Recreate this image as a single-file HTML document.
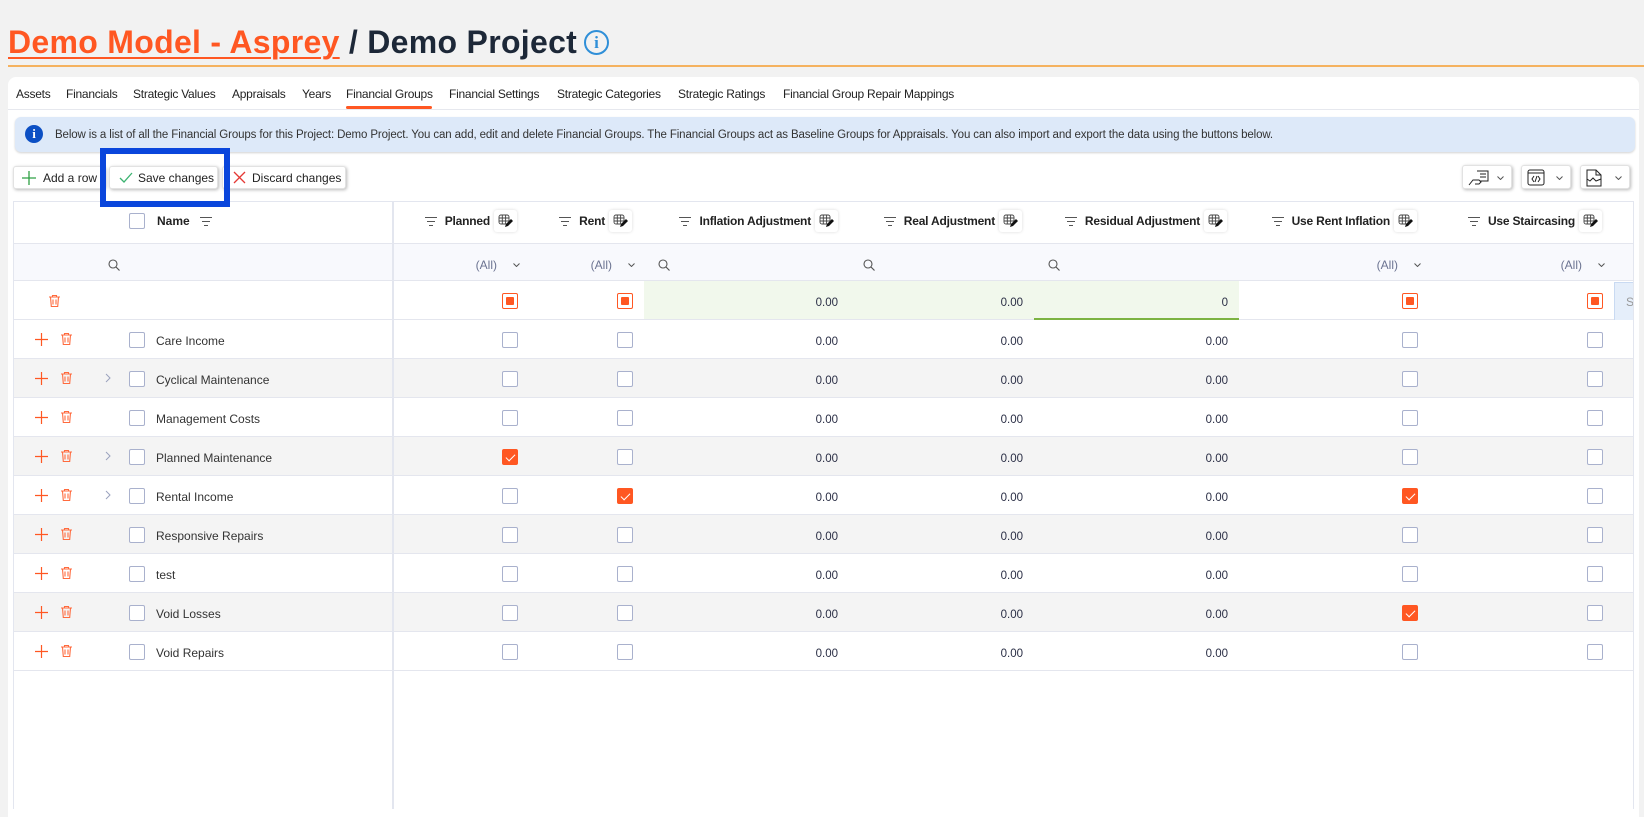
<!DOCTYPE html>
<html><head><meta charset="utf-8">
<style>
*{box-sizing:border-box;margin:0;padding:0}
body{width:1644px;height:809px;overflow:hidden;background:#f2f2f2;font-family:"Liberation Sans",Arial,sans-serif;position:relative;color:#222}
.a{position:absolute}
.title{left:8px;top:26px;font-size:32px;line-height:32px;font-weight:bold;white-space:nowrap;letter-spacing:0.3px;color:#1d2838}
.title u{color:#ff5722;text-decoration:underline;text-decoration-thickness:2px;text-underline-offset:4px}
.tab{top:87px;font-size:12px;line-height:14px;letter-spacing:-0.25px;color:#222;white-space:nowrap}
.btn{top:166px;height:23px;background:#fff;border:1px solid #e2e2e2;border-radius:3px;box-shadow:1px 1px 3px rgba(0,0,0,.28);display:flex;align-items:center;font-size:12px;color:#222;white-space:nowrap}
.tb{top:165px;height:24px;width:50px;background:#fff;border:1px solid #e2e2e2;border-radius:3px;box-shadow:1px 1px 3px rgba(0,0,0,.28)}
#grid{left:13px;top:201px;width:1621px;height:608px;background:#fff;overflow:hidden}
.r{position:absolute;left:0;width:1621px;height:39px;border-bottom:1px solid #e4e6ee}
.g{background:#f4f4f4}
.cb{position:absolute;top:12px;width:16px;height:16px;border:1px solid #a9b1cd;border-radius:2px;background:#fff}
.ck{background:#ff5722;border-color:#ff5722}
.ck::after{content:"";position:absolute;left:4.5px;top:1.5px;width:4px;height:8px;border:solid #fff;border-width:0 1.6px 1.6px 0;transform:rotate(45deg)}
.ind{border-color:#ff5722}
.ind::after{content:"";position:absolute;left:3px;top:3px;width:8px;height:8px;background:#ff5722;border-radius:1px}
.t{position:absolute;left:143px;top:2px;line-height:38px;font-size:12px;color:#333;white-space:nowrap}
.n{position:absolute;top:3px;line-height:38px;font-size:11.5px;color:#2a2e45}
.pl{position:absolute;left:22px;top:13px}
.tr{position:absolute;left:47px;top:12px}
.cv{position:absolute;left:92px;top:14px}
.hd{position:absolute;top:9px;height:22px;display:flex;align-items:center;justify-content:flex-end;padding-right:12px;font-weight:bold;font-size:12px;letter-spacing:-0.2px;color:#222;white-space:nowrap}
.hd .f{margin-right:8px}
.eb{width:23px;height:22px;margin-left:4px;background:#fff;box-shadow:0 0 3px rgba(0,0,0,.15);border-radius:3px;display:flex;align-items:center;justify-content:center}
.fl{position:absolute;top:45px;height:37px;display:flex;align-items:center;justify-content:flex-end;padding-right:9px;font-size:12px;color:#6b7391}
.fl svg{margin-left:16px}
.line{position:absolute;background:#e3e6ef}
</style></head><body>

<div class="a title"><u>Demo Model - Asprey</u> / Demo Project</div>
<div class="a" style="left:584px;top:30px;width:25px;height:25px;border:2px solid #2f8fd8;border-radius:50%;color:#2f8fd8;font-size:17px;line-height:21px;text-align:center;font-family:'Liberation Serif',serif;font-weight:bold">i</div>
<div class="a" style="left:8px;top:65px;width:1636px;height:2px;background:#f5b25f"></div>

<div class="a" style="left:8px;top:77px;width:1631px;height:740px;background:#fff;border-radius:8px 8px 0 0"></div>

<div class="a tab" style="left:16px">Assets</div>
<div class="a tab" style="left:66px">Financials</div>
<div class="a tab" style="left:133px">Strategic Values</div>
<div class="a tab" style="left:232px">Appraisals</div>
<div class="a tab" style="left:302px">Years</div>
<div class="a tab" style="left:346px">Financial Groups</div>
<div class="a tab" style="left:449px">Financial Settings</div>
<div class="a tab" style="left:557px">Strategic Categories</div>
<div class="a tab" style="left:678px">Strategic Ratings</div>
<div class="a tab" style="left:783px">Financial Group Repair Mappings</div>
<div class="a" style="left:346px;top:106px;width:86px;height:3px;background:#ff5722;border-radius:2px"></div>
<div class="a" style="left:8px;top:109px;width:1631px;height:1px;background:#e6e8ee"></div>

<div class="a" style="left:15px;top:117px;width:1620px;height:35px;background:#dde9f9;border-radius:6px;box-shadow:0 1px 2px rgba(0,0,0,.18)"></div>
<div class="a" style="left:25px;top:125px;width:18px;height:18px;border-radius:50%;background:#0b4fc4;color:#fff;font-weight:bold;font-size:13px;line-height:18px;text-align:center;font-family:'Liberation Serif',serif">i</div>
<div class="a" style="left:55px;top:118px;line-height:35px;font-size:11.5px;letter-spacing:-0.12px;color:#333;white-space:nowrap">Below is a list of all the Financial Groups for this Project: Demo Project. You can add, edit and delete Financial Groups. The Financial Groups act as Baseline Groups for Appraisals. You can also import and export the data using the buttons below.</div>

<div class="a btn" style="left:13px;width:92px;padding-left:8px"><svg width="14" height="14" style="margin-right:7px"><path d="M7 0v14M0 7h14" stroke="#2ea043" stroke-width="1.3"/></svg>Add a row</div>
<div class="a btn" style="left:109px;width:109px;padding-left:9px"><svg width="14" height="11" style="margin-right:5px"><path d="M1 6l4 4 8-9" fill="none" stroke="#3cb371" stroke-width="1.3"/></svg>Save changes</div>
<div class="a btn" style="left:222px;width:124px;padding-left:10px"><svg width="13" height="13" style="margin-right:6px"><path d="M1 1l11 11M12 1L1 12" stroke="#e53935" stroke-width="1.3"/></svg>Discard changes</div>

<div class="a tb" style="left:1462px"><svg class="a" style="left:5px;top:3px" width="22" height="17" viewBox="0 0 22 17"><g fill="none" stroke="#222" stroke-width="1"><path d="M9 2h11v10h-8"/><path d="M12 5h6M12 8h6"/><path d="M1 16l4-5h6l2 2-2 2H7"/></g></svg><svg class="a" style="left:34px;top:10px" width="7" height="4"><path d="M.5.5l3 3 3-3" fill="none" stroke="#555"/></svg></div>
<div class="a tb" style="left:1521px"><svg class="a" style="left:5px;top:3px" width="18" height="17" viewBox="0 0 18 17"><g fill="none" stroke="#222" stroke-width="1"><rect x="1" y="1" width="16" height="15" rx="2"/><path d="M1 4h16M7 7l-2 3 2 3M11 7l2 3-2 3M10 7l-2 6"/></g></svg><svg class="a" style="left:34px;top:10px" width="7" height="4"><path d="M.5.5l3 3 3-3" fill="none" stroke="#555"/></svg></div>
<div class="a tb" style="left:1580px"><svg class="a" style="left:5px;top:3px" width="16" height="18" viewBox="0 0 16 18"><g fill="none" stroke="#222" stroke-width="1"><path d="M1 1h9l5 5v11H1z"/><path d="M10 1v5h5"/><path d="M1 10l3 2 3-3 3 3 5-2"/></g></svg><svg class="a" style="left:34px;top:10px" width="7" height="4"><path d="M.5.5l3 3 3-3" fill="none" stroke="#555"/></svg></div>

<div id="grid" class="a">
  <!-- header -->
  <div class="r" style="top:0;height:43px"></div>
  <div class="cb" style="left:116px;top:12px"></div>
  <div class="a" style="left:144px;top:9px;line-height:22px;font-weight:bold;font-size:12px;color:#222">Name</div>
  <svg class="a" style="left:187px;top:16px" width="12" height="9"><path d="M0 .5h12M2 4.5h8M4 8.5h4" stroke="#555" stroke-width="1"/></svg>

  <div class="hd" style="left:381px;width:135px"><svg class="f" width="12" height="9"><path d="M0 .5h12M2 4.5h8M4 8.5h4" stroke="#555"/></svg>Planned<span class="eb"><svg width="15" height="14" viewBox="0 0 15 14"><g fill="none" stroke="#444" stroke-width=".9"><rect x="1" y="1" width="10" height="9" rx="2"/><path d="M1 4h10M1 7h10M4.3 1v9M7.6 1v9"/></g><path d="M7 13l1-3 5-5 2 2-5 5z" fill="#111"/></svg></span></div>
  <div class="hd" style="left:516px;width:115px"><svg class="f" width="12" height="9"><path d="M0 .5h12M2 4.5h8M4 8.5h4" stroke="#555"/></svg>Rent<span class="eb"><svg width="15" height="14" viewBox="0 0 15 14"><g fill="none" stroke="#444" stroke-width=".9"><rect x="1" y="1" width="10" height="9" rx="2"/><path d="M1 4h10M1 7h10M4.3 1v9M7.6 1v9"/></g><path d="M7 13l1-3 5-5 2 2-5 5z" fill="#111"/></svg></span></div>
  <div class="hd" style="left:631px;width:206px"><svg class="f" width="12" height="9"><path d="M0 .5h12M2 4.5h8M4 8.5h4" stroke="#555"/></svg>Inflation Adjustment<span class="eb"><svg width="15" height="14" viewBox="0 0 15 14"><g fill="none" stroke="#444" stroke-width=".9"><rect x="1" y="1" width="10" height="9" rx="2"/><path d="M1 4h10M1 7h10M4.3 1v9M7.6 1v9"/></g><path d="M7 13l1-3 5-5 2 2-5 5z" fill="#111"/></svg></span></div>
  <div class="hd" style="left:837px;width:184px"><svg class="f" width="12" height="9"><path d="M0 .5h12M2 4.5h8M4 8.5h4" stroke="#555"/></svg>Real Adjustment<span class="eb"><svg width="15" height="14" viewBox="0 0 15 14"><g fill="none" stroke="#444" stroke-width=".9"><rect x="1" y="1" width="10" height="9" rx="2"/><path d="M1 4h10M1 7h10M4.3 1v9M7.6 1v9"/></g><path d="M7 13l1-3 5-5 2 2-5 5z" fill="#111"/></svg></span></div>
  <div class="hd" style="left:1021px;width:205px"><svg class="f" width="12" height="9"><path d="M0 .5h12M2 4.5h8M4 8.5h4" stroke="#555"/></svg>Residual Adjustment<span class="eb"><svg width="15" height="14" viewBox="0 0 15 14"><g fill="none" stroke="#444" stroke-width=".9"><rect x="1" y="1" width="10" height="9" rx="2"/><path d="M1 4h10M1 7h10M4.3 1v9M7.6 1v9"/></g><path d="M7 13l1-3 5-5 2 2-5 5z" fill="#111"/></svg></span></div>
  <div class="hd" style="left:1226px;width:191px;padding-right:13px"><svg class="f" width="12" height="9"><path d="M0 .5h12M2 4.5h8M4 8.5h4" stroke="#555"/></svg>Use Rent Inflation<span class="eb"><svg width="15" height="14" viewBox="0 0 15 14"><g fill="none" stroke="#444" stroke-width=".9"><rect x="1" y="1" width="10" height="9" rx="2"/><path d="M1 4h10M1 7h10M4.3 1v9M7.6 1v9"/></g><path d="M7 13l1-3 5-5 2 2-5 5z" fill="#111"/></svg></span></div>
  <div class="hd" style="left:1417px;width:184px"><svg class="f" width="12" height="9"><path d="M0 .5h12M2 4.5h8M4 8.5h4" stroke="#555"/></svg>Use Staircasing<span class="eb"><svg width="15" height="14" viewBox="0 0 15 14"><g fill="none" stroke="#444" stroke-width=".9"><rect x="1" y="1" width="10" height="9" rx="2"/><path d="M1 4h10M1 7h10M4.3 1v9M7.6 1v9"/></g><path d="M7 13l1-3 5-5 2 2-5 5z" fill="#111"/></svg></span></div>

  <!-- filter row -->
  <div class="r" style="top:43px;height:37px;background:#f8f9fd"></div>
  <svg class="a" style="left:95px;top:58px" width="12" height="12"><circle cx="5" cy="5" r="4" fill="none" stroke="#555" stroke-width="1.1"/><path d="M8 8l3.5 3.5" stroke="#555" stroke-width="1.2"/></svg>
  <svg class="a" style="left:645px;top:58px" width="12" height="12"><circle cx="5" cy="5" r="4" fill="none" stroke="#555" stroke-width="1.1"/><path d="M8 8l3.5 3.5" stroke="#555" stroke-width="1.2"/></svg>
  <svg class="a" style="left:850px;top:58px" width="12" height="12"><circle cx="5" cy="5" r="4" fill="none" stroke="#555" stroke-width="1.1"/><path d="M8 8l3.5 3.5" stroke="#555" stroke-width="1.2"/></svg>
  <svg class="a" style="left:1035px;top:58px" width="12" height="12"><circle cx="5" cy="5" r="4" fill="none" stroke="#555" stroke-width="1.1"/><path d="M8 8l3.5 3.5" stroke="#555" stroke-width="1.2"/></svg>
  <div class="fl" style="left:381px;width:135px">(All)<svg width="7" height="4"><path d="M.5.5l3 3 3-3" fill="none" stroke="#555"/></svg></div>
  <div class="fl" style="left:516px;width:115px">(All)<svg width="7" height="4"><path d="M.5.5l3 3 3-3" fill="none" stroke="#555"/></svg></div>
  <div class="fl" style="left:1226px;width:191px">(All)<svg width="7" height="4"><path d="M.5.5l3 3 3-3" fill="none" stroke="#555"/></svg></div>
  <div class="fl" style="left:1417px;width:184px">(All)<svg width="7" height="4"><path d="M.5.5l3 3 3-3" fill="none" stroke="#555"/></svg></div>

  <!-- new row -->
  <div class="r" style="top:80px">
    <svg class="a" style="left:35px;top:13px" width="13" height="14" viewBox="0 0 13 14"><path d="M1 3h11M4.5 3V1.5h4V3M2.5 3l.8 9.5h6.4l.8-9.5M5 5.5v5M8 5.5v5" fill="none" stroke="#ff6a3d" stroke-width="1.1"/></svg>
    <div class="cb ind" style="left:489px"></div>
    <div class="cb ind" style="left:604px"></div>
    <div class="a" style="left:631px;top:0;width:595px;height:38px;background:#f1f8ec"></div>
    <div class="n" style="right:796px">0.00</div>
    <div class="n" style="right:611px">0.00</div>
    <div class="n" style="right:406px">0</div>
    <div class="a" style="left:1021px;top:37px;width:205px;height:2px;background:#7cb342"></div>
    <div class="cb ind" style="left:1389px"></div>
    <div class="cb ind" style="left:1574px"></div>
    <div class="a" style="left:1601px;top:1px;width:20px;height:38px;background:#e5eefa;border-left:1px solid #c9daf2;border-top:1px solid #c9daf2;font-size:12px;line-height:38px;color:#999;padding-left:11px;white-space:nowrap;overflow:hidden">Se</div>
  </div>

  <!-- data rows -->
  <div class="r" style="top:119px"><svg class="pl" width="13" height="13"><path d="M6.5 0v13M0 6.5h13" stroke="#ff5722" stroke-width="1.2"/></svg><svg class="tr" width="13" height="14" viewBox="0 0 13 14"><path d="M1 3h11M4.5 3V1.5h4V3M2.5 3l.8 9.5h6.4l.8-9.5M5 5.5v5M8 5.5v5" fill="none" stroke="#ff6a3d" stroke-width="1.1"/></svg><div class="cb" style="left:116px"></div><div class="t">Care Income</div><div class="cb" style="left:489px"></div><div class="cb" style="left:604px"></div><div class="n" style="right:796px">0.00</div><div class="n" style="right:611px">0.00</div><div class="n" style="right:406px">0.00</div><div class="cb" style="left:1389px"></div><div class="cb" style="left:1574px"></div></div>

  <div class="r g" style="top:158px"><svg class="pl" width="13" height="13"><path d="M6.5 0v13M0 6.5h13" stroke="#ff5722" stroke-width="1.2"/></svg><svg class="tr" width="13" height="14" viewBox="0 0 13 14"><path d="M1 3h11M4.5 3V1.5h4V3M2.5 3l.8 9.5h6.4l.8-9.5M5 5.5v5M8 5.5v5" fill="none" stroke="#ff6a3d" stroke-width="1.1"/></svg><svg class="cv" width="6" height="10"><path d="M1 1l4 4-4 4" fill="none" stroke="#9aa2bd"/></svg><div class="cb" style="left:116px"></div><div class="t">Cyclical Maintenance</div><div class="cb" style="left:489px"></div><div class="cb" style="left:604px"></div><div class="n" style="right:796px">0.00</div><div class="n" style="right:611px">0.00</div><div class="n" style="right:406px">0.00</div><div class="cb" style="left:1389px"></div><div class="cb" style="left:1574px"></div></div>

  <div class="r" style="top:197px"><svg class="pl" width="13" height="13"><path d="M6.5 0v13M0 6.5h13" stroke="#ff5722" stroke-width="1.2"/></svg><svg class="tr" width="13" height="14" viewBox="0 0 13 14"><path d="M1 3h11M4.5 3V1.5h4V3M2.5 3l.8 9.5h6.4l.8-9.5M5 5.5v5M8 5.5v5" fill="none" stroke="#ff6a3d" stroke-width="1.1"/></svg><div class="cb" style="left:116px"></div><div class="t">Management Costs</div><div class="cb" style="left:489px"></div><div class="cb" style="left:604px"></div><div class="n" style="right:796px">0.00</div><div class="n" style="right:611px">0.00</div><div class="n" style="right:406px">0.00</div><div class="cb" style="left:1389px"></div><div class="cb" style="left:1574px"></div></div>

  <div class="r g" style="top:236px"><svg class="pl" width="13" height="13"><path d="M6.5 0v13M0 6.5h13" stroke="#ff5722" stroke-width="1.2"/></svg><svg class="tr" width="13" height="14" viewBox="0 0 13 14"><path d="M1 3h11M4.5 3V1.5h4V3M2.5 3l.8 9.5h6.4l.8-9.5M5 5.5v5M8 5.5v5" fill="none" stroke="#ff6a3d" stroke-width="1.1"/></svg><svg class="cv" width="6" height="10"><path d="M1 1l4 4-4 4" fill="none" stroke="#9aa2bd"/></svg><div class="cb" style="left:116px"></div><div class="t">Planned Maintenance</div><div class="cb ck" style="left:489px"></div><div class="cb" style="left:604px"></div><div class="n" style="right:796px">0.00</div><div class="n" style="right:611px">0.00</div><div class="n" style="right:406px">0.00</div><div class="cb" style="left:1389px"></div><div class="cb" style="left:1574px"></div></div>

  <div class="r" style="top:275px"><svg class="pl" width="13" height="13"><path d="M6.5 0v13M0 6.5h13" stroke="#ff5722" stroke-width="1.2"/></svg><svg class="tr" width="13" height="14" viewBox="0 0 13 14"><path d="M1 3h11M4.5 3V1.5h4V3M2.5 3l.8 9.5h6.4l.8-9.5M5 5.5v5M8 5.5v5" fill="none" stroke="#ff6a3d" stroke-width="1.1"/></svg><svg class="cv" width="6" height="10"><path d="M1 1l4 4-4 4" fill="none" stroke="#9aa2bd"/></svg><div class="cb" style="left:116px"></div><div class="t">Rental Income</div><div class="cb" style="left:489px"></div><div class="cb ck" style="left:604px"></div><div class="n" style="right:796px">0.00</div><div class="n" style="right:611px">0.00</div><div class="n" style="right:406px">0.00</div><div class="cb ck" style="left:1389px"></div><div class="cb" style="left:1574px"></div></div>

  <div class="r g" style="top:314px"><svg class="pl" width="13" height="13"><path d="M6.5 0v13M0 6.5h13" stroke="#ff5722" stroke-width="1.2"/></svg><svg class="tr" width="13" height="14" viewBox="0 0 13 14"><path d="M1 3h11M4.5 3V1.5h4V3M2.5 3l.8 9.5h6.4l.8-9.5M5 5.5v5M8 5.5v5" fill="none" stroke="#ff6a3d" stroke-width="1.1"/></svg><div class="cb" style="left:116px"></div><div class="t">Responsive Repairs</div><div class="cb" style="left:489px"></div><div class="cb" style="left:604px"></div><div class="n" style="right:796px">0.00</div><div class="n" style="right:611px">0.00</div><div class="n" style="right:406px">0.00</div><div class="cb" style="left:1389px"></div><div class="cb" style="left:1574px"></div></div>

  <div class="r" style="top:353px"><svg class="pl" width="13" height="13"><path d="M6.5 0v13M0 6.5h13" stroke="#ff5722" stroke-width="1.2"/></svg><svg class="tr" width="13" height="14" viewBox="0 0 13 14"><path d="M1 3h11M4.5 3V1.5h4V3M2.5 3l.8 9.5h6.4l.8-9.5M5 5.5v5M8 5.5v5" fill="none" stroke="#ff6a3d" stroke-width="1.1"/></svg><div class="cb" style="left:116px"></div><div class="t">test</div><div class="cb" style="left:489px"></div><div class="cb" style="left:604px"></div><div class="n" style="right:796px">0.00</div><div class="n" style="right:611px">0.00</div><div class="n" style="right:406px">0.00</div><div class="cb" style="left:1389px"></div><div class="cb" style="left:1574px"></div></div>

  <div class="r g" style="top:392px"><svg class="pl" width="13" height="13"><path d="M6.5 0v13M0 6.5h13" stroke="#ff5722" stroke-width="1.2"/></svg><svg class="tr" width="13" height="14" viewBox="0 0 13 14"><path d="M1 3h11M4.5 3V1.5h4V3M2.5 3l.8 9.5h6.4l.8-9.5M5 5.5v5M8 5.5v5" fill="none" stroke="#ff6a3d" stroke-width="1.1"/></svg><div class="cb" style="left:116px"></div><div class="t">Void Losses</div><div class="cb" style="left:489px"></div><div class="cb" style="left:604px"></div><div class="n" style="right:796px">0.00</div><div class="n" style="right:611px">0.00</div><div class="n" style="right:406px">0.00</div><div class="cb ck" style="left:1389px"></div><div class="cb" style="left:1574px"></div></div>

  <div class="r" style="top:431px"><svg class="pl" width="13" height="13"><path d="M6.5 0v13M0 6.5h13" stroke="#ff5722" stroke-width="1.2"/></svg><svg class="tr" width="13" height="14" viewBox="0 0 13 14"><path d="M1 3h11M4.5 3V1.5h4V3M2.5 3l.8 9.5h6.4l.8-9.5M5 5.5v5M8 5.5v5" fill="none" stroke="#ff6a3d" stroke-width="1.1"/></svg><div class="cb" style="left:116px"></div><div class="t">Void Repairs</div><div class="cb" style="left:489px"></div><div class="cb" style="left:604px"></div><div class="n" style="right:796px">0.00</div><div class="n" style="right:611px">0.00</div><div class="n" style="right:406px">0.00</div><div class="cb" style="left:1389px"></div><div class="cb" style="left:1574px"></div></div>

  <!-- grid lines overlay -->
  <div class="line" style="left:0;top:0;width:1621px;height:1px"></div>
  <div class="line" style="left:0;top:0;width:1px;height:608px"></div>
  <div class="line" style="left:1620px;top:0;width:1px;height:608px"></div>
  <div class="line" style="left:379px;top:0;width:2px;height:608px"></div>
</div>

<div class="a" style="left:100px;top:148px;width:130px;height:59px;border:6px solid #0a46dc;z-index:10"></div>

</body></html>
